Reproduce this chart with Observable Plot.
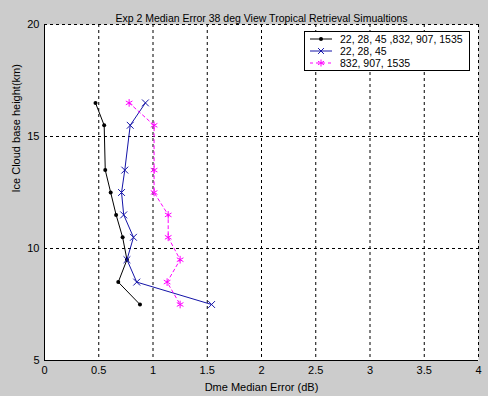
<!DOCTYPE html>
<html><head><meta charset="utf-8">
<script src="https://cdn.jsdelivr.net/npm/d3@7"></script>
<script src="https://cdn.jsdelivr.net/npm/@observablehq/plot@0.6"></script>
<style>
html,body{margin:0;padding:0;background:#cccccc;width:488px;height:396px;overflow:hidden;font-family:"Liberation Sans",Arial,sans-serif;}
#wrap{position:relative;width:488px;height:396px;}
#legend{position:absolute;left:304px;top:31px;width:164px;height:38px;background:#fff;border:1px solid #000;font-size:10.5px;}
#legend .row{position:absolute;left:0;height:12px;display:flex;align-items:center;}
#legend svg{display:block;}
#legend span{margin-left:5px;white-space:nowrap;color:#000;}
</style></head>
<body><div id="wrap"><div id="chart"></div><div id="legend"></div></div>
<script>
const title = "Exp 2 Median Error 38 deg View Tropical Retrieval Simualtions";
const xLabel = "Dme Median Error (dB)";
const yLabel = "Ice Cloud base height(km)";
const heights = [16.5, 15.5, 13.5, 12.5, 11.5, 10.5, 9.5, 8.5, 7.5];
const errAll  = [0.47, 0.55, 0.56, 0.61, 0.66, 0.72, 0.76, 0.68, 0.88];
const errLow  = [0.93, 0.79, 0.74, 0.71, 0.73, 0.82, 0.76, 0.85, 1.54];
const errHigh = [0.78, 1.01, 1.01, 1.01, 1.14, 1.14, 1.25, 1.13, 1.25];
const seriesNames = ["22, 28, 45 ,832, 907, 1535", "22, 28, 45", "832, 907, 1535"];
const seriesColors = ["#000000", "#1414a8", "#ff00ff"];
const xTicks = [0, 0.5, 1, 1.5, 2, 2.5, 3, 3.5, 4];
const yTicks = [5, 10, 15, 20];

const rows = (vals) => vals.map((v, i) => ({x: v, y: heights[i]}));
const dAll = rows(errAll), dLow = rows(errLow), dHigh = rows(errHigh);

const chart = Plot.plot({
  width: 488, height: 396,
  marginLeft: 44, marginRight: 10, marginTop: 24, marginBottom: 36,
  style: {background: "transparent", fontFamily: "Liberation Sans, Arial, sans-serif", fontSize: "11px", color: "#000"},
  x: {domain: [0, 4], label: null},
  y: {domain: [5, 20], label: null},
  marks: [
    Plot.frame({fill: "#fff", stroke: null}),
    Plot.ruleX(xTicks.slice(1), {stroke: "#000", strokeDasharray: "3,3", strokeWidth: 1}),
    Plot.ruleY(yTicks.slice(1), {stroke: "#000", strokeDasharray: "3,3", strokeWidth: 1}),
    Plot.ruleX([0], {stroke: "#000", strokeWidth: 1}),
    Plot.ruleY([5], {stroke: "#000", strokeWidth: 1}),
    Plot.axisX({ticks: xTicks, tickFormat: d => String(d), tickSize: 0, tickPadding: 6, label: null}),
    Plot.axisY({ticks: yTicks, tickFormat: d => String(d), tickSize: 0, tickPadding: 5, label: null}),
    Plot.line(dAll, {x: "x", y: "y", stroke: seriesColors[0], strokeWidth: 1}),
    Plot.dot(dAll, {x: "x", y: "y", fill: seriesColors[0], r: 2, stroke: null}),
    Plot.line(dLow, {x: "x", y: "y", stroke: seriesColors[1], strokeWidth: 1}),
    Plot.dot(dLow, {x: "x", y: "y", symbol: "times", stroke: seriesColors[1], r: 3.2, strokeWidth: 1}),
    Plot.line(dHigh, {x: "x", y: "y", stroke: seriesColors[2], strokeWidth: 1, strokeDasharray: "3,3"}),
    Plot.dot(dHigh, {x: "x", y: "y", symbol: "asterisk", stroke: seriesColors[2], r: 3.6, strokeWidth: 1}),
    Plot.text([title], {frameAnchor: "top", dy: -10, fontSize: 10.5, fill: "#000"}),
    Plot.text([xLabel], {frameAnchor: "bottom", dy: 30, fontSize: 11, fill: "#000"}),
    Plot.text([yLabel], {frameAnchor: "left", dx: -28, rotate: -90, fontSize: 11, fill: "#000"})
  ]
});
document.getElementById("chart").appendChild(chart);

// legend
const leg = document.getElementById("legend");
const legendStyles = [
  {dash: null, sym: "dot"},
  {dash: null, sym: "times"},
  {dash: "3,3", sym: "asterisk"}
];
seriesNames.forEach((name, i) => {
  const row = document.createElement("div");
  row.className = "row";
  row.style.top = (1 + i * 12) + "px";
  const s = d3.create("svg").attr("width", 30).attr("height", 12);
  s.append("line").attr("x1", 5).attr("x2", 27).attr("y1", 6).attr("y2", 6)
    .attr("stroke", seriesColors[i]).attr("stroke-dasharray", legendStyles[i].dash);
  const g = s.append("g").attr("transform", "translate(16,6)");
  if (legendStyles[i].sym === "dot") {
    g.append("circle").attr("r", 2).attr("fill", seriesColors[i]);
  } else {
    const sym = legendStyles[i].sym === "times" ? d3.symbolTimes : d3.symbolAsterisk;
    g.append("path").attr("d", d3.symbol(sym, legendStyles[i].sym === "times" ? 24 : 34)())
      .attr("fill", "none").attr("stroke", seriesColors[i]);
  }
  row.appendChild(s.node());
  const t = document.createElement("span");
  t.textContent = name;
  row.appendChild(t);
  leg.appendChild(row);
});
</script></body></html>
